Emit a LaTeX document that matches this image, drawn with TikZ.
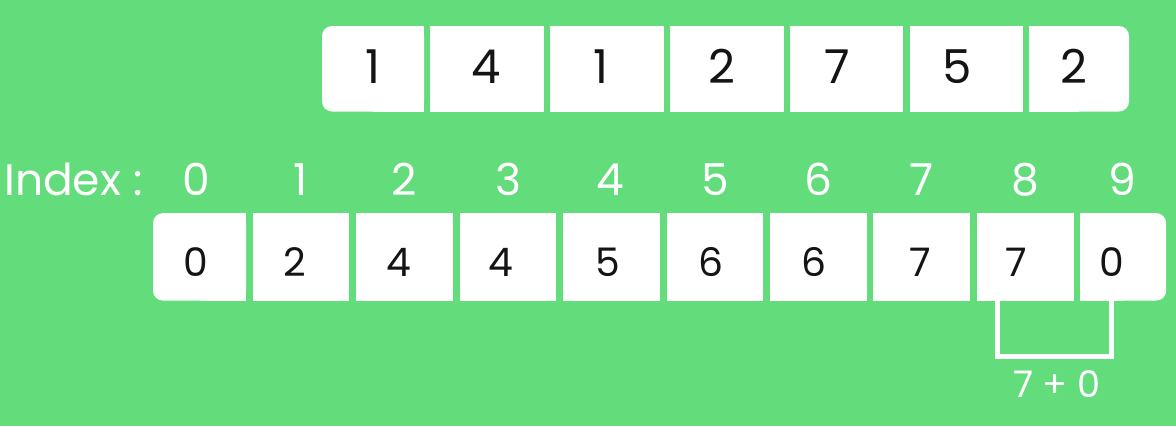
\documentclass[tikz,border=0pt]{standalone}
\usepackage{fontspec}
\setmainfont{Poppins}
\definecolor{bggreen}{RGB}{99,220,123}
\definecolor{ink}{RGB}{20,20,20}
\tikzset{
  cellbox/.style={fill=white, draw=none, inner sep=0pt, minimum height=87.5*0.75pt},
  topdig/.style={anchor=base, inner sep=0pt, text=ink, font=\fontsize{35}{35}\selectfont},
  botdig/.style={anchor=base, inner sep=0pt, text=ink, font=\fontsize{29.5}{29.5}\selectfont},
  idxlab/.style={anchor=base, inner sep=0pt, text=white, font=\fontsize{33}{33}\selectfont},
  sumlab/.style={anchor=base, inner sep=0pt, text=white, font=\fontsize{27.5}{27.5}\selectfont},
  bracketline/.style={draw=white, line width=3.8pt},
}
\begin{document}
\begin{tikzpicture}[x=0.75pt,y=-0.75pt]
\fill[bggreen] (0,0) rectangle (1176,426);
\useasboundingbox (0,0) rectangle (1176,426);
% ---------- top array ----------
\node[cellbox, rounded corners=7.5pt, minimum width=102*0.75pt, minimum height=85.5*0.75pt] (t1) at (373,68.75) {};
\fill[white] (t1.north) rectangle (t1.south east);
\foreach \s/\e [count=\k from 2] in {430/544,550/664,670/784,790/903,910/1023}{
  \node[cellbox, minimum width={(\e-\s)*0.75pt}, minimum height=85.5*0.75pt] (t\k) at ({(\s+\e)/2},68.75) {};
}
\node[cellbox, rounded corners=7.5pt, minimum width=100*0.75pt, minimum height=85.5*0.75pt] (t7) at (1079,68.75) {};
\fill[white] (t7.north west) rectangle (t7.south);
\foreach \x/\d [count=\k] in {372.5/1,486/4,600.5/1,722/2,837/7,956.7/5,1074/2}{
  \node[topdig] (tv\k) at (\x,83.5) {\d};
}
% ---------- index labels ----------
\node[idxlab, anchor=base west] (idx) at (4,195) {Index :};
\foreach \x [count=\k from 0] in {196,300.8,403.8,508.3,610.8,715,818.3,921.7,1025.8,1122}{
  \node[idxlab] (i\k) at (\x,195) {\k};
}
% ---------- bottom array ----------
\node[cellbox, rounded corners=7.5pt, minimum width=93*0.75pt] (b0) at (199.5,256.85) {};
\fill[white] (b0.north) rectangle (b0.south east);
\foreach \k in {1,...,8}{
  \pgfmathsetmacro{\cx}{252.7+103.45*(\k-1)+48.35}
  \node[cellbox, minimum width=96.7*0.75pt] (b\k) at (\cx,256.85) {};
}
\node[cellbox, rounded corners=7.5pt, minimum width=86*0.75pt] (b9) at (1123.15,256.85) {};
\fill[white] (b9.north west) rectangle (b9.south);
\foreach \x/\d [count=\k from 0] in {196/0,294.7/2,398.7/4,501/4,608.3/5,711/6,814.3/6,920/7,1016.7/7,1112/0}{
  \node[botdig] (bv\k) at (\x,276) {\d};
}
% ---------- bracket ----------
\coordinate (brL) at (997.5,300.7);
\coordinate (brR) at (1111.8,300.7);
\draw[bracketline] (b8.south -| brL) -- ++(0,56) -| (b9.south -| brR);
\node[sumlab] (sum) at (1057,397) {7 + 0};
\end{tikzpicture}
\end{document}
